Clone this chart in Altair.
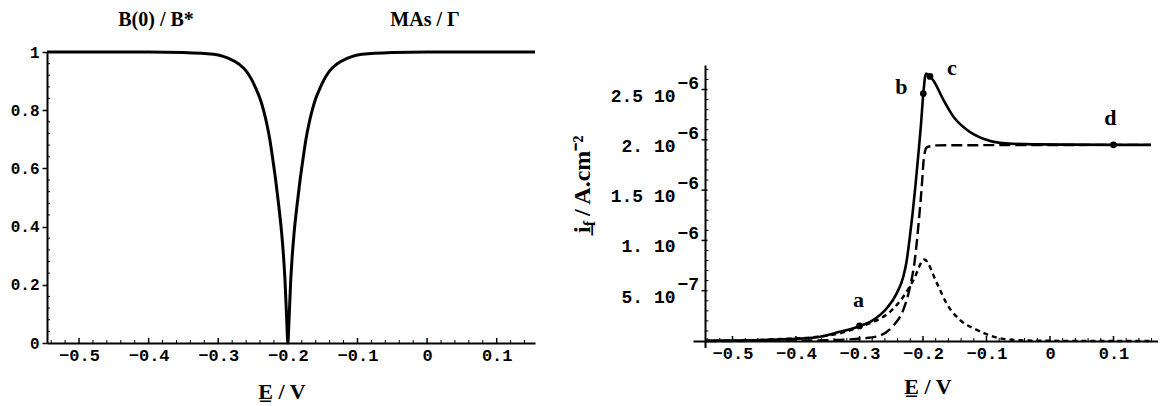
import altair as alt
import pandas as pd

MONO = "Liberation Mono"
SERIF = "Liberation Serif"

# ---------------- left panel data: B(0)/B* versus E ----------------
E_B = [-0.546, -0.400, -0.350, -0.320, -0.300, -0.285, -0.270, -0.260, -0.252, -0.246,
       -0.240, -0.235, -0.230, -0.226, -0.221, -0.217, -0.213, -0.209, -0.206, -0.204,
       -0.2015, -0.200,
       -0.1985, -0.196, -0.194, -0.191, -0.187, -0.183, -0.179, -0.174, -0.170, -0.165,
       -0.160, -0.154, -0.148, -0.140, -0.130, -0.115, -0.100, -0.080, -0.050, 0.000, 0.155]
B_ratio = [1.0, 1.0, 0.998, 0.995, 0.99, 0.978, 0.958, 0.935, 0.905, 0.875,
           0.84, 0.80, 0.75, 0.70, 0.62, 0.55, 0.47, 0.38, 0.29, 0.21,
           0.07, 0.0,
           0.07, 0.21, 0.29, 0.38, 0.47, 0.55, 0.62, 0.70, 0.75, 0.80,
           0.84, 0.875, 0.905, 0.935, 0.958, 0.978, 0.99, 0.995, 0.998, 1.0, 1.0]

left_titles = ["B(0) / B*", "MAs / \u0393"]
x_title = "E\u0332 / V"
y_title_parts = ["i\u0332", "f", "/ A.cm\u207b\u00b2"]

# ---------------- right panel data: i_f (in 1e-6 A.cm-2) versus E ----------------
E_tot = [-0.5425, -0.50, -0.45, -0.40, -0.362, -0.331, -0.302, -0.278, -0.257, -0.2414,
         -0.231, -0.226, -0.2213, -0.2165, -0.2118, -0.2071, -0.2031, -0.1995, -0.1953, -0.189,
         -0.1837, -0.168, -0.152, -0.131, -0.105, -0.079, -0.027, 0.102, 0.159]
i_tot = [0.003, 0.005, 0.010, 0.022, 0.043, 0.092, 0.142, 0.21, 0.325, 0.474,
         0.639, 0.785, 1.004, 1.262, 1.55, 1.87, 2.157, 2.46, 2.66, 2.63,
         2.59, 2.40, 2.23, 2.10, 2.01, 1.97, 1.955, 1.95, 1.95]

E_long = [-0.5425, -0.40, -0.35, -0.32, -0.294, -0.273, -0.247, -0.231, -0.220, -0.213,
          -0.2074, -0.202, -0.1984, -0.194, -0.185, -0.178, 0.159]
i_long = [0.0, 0.003, 0.008, 0.015, 0.027, 0.045, 0.15, 0.31, 0.55, 0.80,
          1.136, 1.53, 1.83, 1.925, 1.94, 1.945, 1.95]

E_short = [-0.5425, -0.48, -0.425, -0.373, -0.331, -0.299, -0.278, -0.252, -0.231, -0.215,
           -0.198, -0.178, -0.163, -0.142, -0.115, -0.079, -0.050, 0.0, 0.159]
i_short = [0.0, 0.005, 0.020, 0.037, 0.076, 0.142, 0.19, 0.29, 0.44, 0.606,
           0.81, 0.573, 0.375, 0.21, 0.11, 0.027, 0.008, 0.002, 0.0]

pt_label = ["a", "b", "c", "d"]
pt_E = [-0.300, -0.1995, -0.189, 0.100]
pt_i = [0.15, 2.46, 2.63, 1.95]

# tick values / labels
x_major = [-0.5, -0.4, -0.3, -0.2, -0.1, 0.0, 0.1]
yl_major = [0.0, 0.2, 0.4, 0.6, 0.8, 1.0]
yr_major = [0.5, 1.0, 1.5, 2.0, 2.5]
yr_mant = ["5. 10", "1. 10", "1.5 10", "2. 10", "2.5 10"]
yr_exp = ["\u22127", "\u22126", "\u22126", "\u22126", "\u22126"]


def minor(start, stop, step, major_step):
    out = []
    k = 0
    while True:
        v = round(start + k * step, 4)
        if v > stop + 1e-9:
            break
        r = v / major_step
        if abs(r - round(r)) > 1e-6:
            out.append(v)
        k += 1
    return out


x_minor_l = minor(-0.54, 0.14, 0.02, 0.1)
yl_minor = minor(0.04, 0.96, 0.04, 0.2)
x_minor_r = minor(-0.54, 0.16, 0.02, 0.1)
yr_minor = minor(0.1, 2.7, 0.1, 0.5)

# ---------------- geometry (styles) ----------------
W1, H1 = 488, 291
W2, H2 = 465, 296
xs1 = alt.Scale(domain=[-0.546, 0.155], nice=False, zero=False)
ys1 = alt.Scale(domain=[0, 1], nice=False, zero=False)
xs2 = alt.Scale(domain=[-0.5622, 0.1701], nice=False, zero=False)
ys2 = alt.Scale(domain=[-0.0696, 2.873], nice=False, zero=False)
Y_AXIS_E = -0.5425
Y_AXIS_TOP = 2.74
ZERO_PX = 7  # pixel height of y=0 above the right panel's bottom edge

label_off = {"a": (-1, -26), "b": (-22, -7), "c": (22, -8), "d": (-3, -27)}

X_LABELS = "datum.value == 0 ? '0' : format(datum.value, '.1f')"
AX_COMMON = dict(title=None, grid=False, labelFont=MONO, labelColor="black",
                 labelFontWeight="bold",
                 domainColor="black", domainWidth=2, tickColor="black")
ax_x1 = alt.Axis(values=x_major, ticks=False, tickSize=0, labelPadding=4,
                 labelExpr=X_LABELS, labelFontSize=17, **AX_COMMON)
ax_y1 = alt.Axis(values=yl_major, tickSize=5, tickWidth=1.5, labelPadding=3,
                 labelExpr="datum.value == 0 ? '0' : (datum.value == 1 ? '1' : format(datum.value, '.1f'))",
                 labelFontSize=16, **AX_COMMON)
ax_x2 = alt.Axis(values=x_major, ticks=False, tickSize=0, labelPadding=4,
                 offset=-ZERO_PX, labelExpr=X_LABELS, labelFontSize=17, **AX_COMMON)


def txt(s, x, y, size=20, angle=0, weight="bold", align="center", baseline="middle"):
    return alt.Chart(pd.DataFrame({"t": [s]})).mark_text(
        font=SERIF, fontSize=size, fontWeight=weight, align=align,
        baseline=baseline, angle=angle, color="black"
    ).encode(text="t:N", x=alt.value(x), y=alt.value(y))


# ---------------- left panel ----------------
X1 = lambda: alt.X("E:Q", scale=xs1, axis=ax_x1)
Y1 = lambda: alt.Y("v:Q", scale=ys1, axis=ax_y1)

df_b = pd.DataFrame({"E": E_B, "v": B_ratio})
left_line = alt.Chart(df_b).mark_line(
    color="black", strokeWidth=3, interpolate="monotone"
).encode(x=X1(), y=Y1())
l_xmaj = alt.Chart(pd.DataFrame({"E": x_major})).mark_rule(color="black", strokeWidth=1.5).encode(
    x=X1(), y=alt.value(H1), y2=alt.value(H1 - 5))
l_xmin = alt.Chart(pd.DataFrame({"E": x_minor_l})).mark_rule(color="black", strokeWidth=1).encode(
    x=X1(), y=alt.value(H1), y2=alt.value(H1 - 3))
l_ymin = alt.Chart(pd.DataFrame({"v": yl_minor})).mark_rule(color="black", strokeWidth=1).encode(
    y=Y1(), x=alt.value(0), x2=alt.value(3))

left = alt.layer(
    left_line, l_xmaj, l_xmin, l_ymin,
    txt(left_titles[0], 109, -32), txt(left_titles[1], 378, -32),
    txt(x_title, 235, 340, size=22),
).properties(width=W1, height=H1)

# ---------------- right panel ----------------
X2 = lambda: alt.X("E:Q", scale=xs2, axis=ax_x2)
Y2 = lambda f="v:Q": alt.Y(f, scale=ys2, axis=None)

df_tot = pd.DataFrame({"E": E_tot, "v": i_tot})
df_long = pd.DataFrame({"E": E_long, "v": i_long})
df_short = pd.DataFrame({"E": E_short, "v": i_short})
df_pts = pd.DataFrame({"E": pt_E, "v": pt_i, "lab": pt_label})

r_tot = alt.Chart(df_tot).mark_line(color="black", strokeWidth=2.6, interpolate="monotone").encode(
    x=X2(), y=Y2())
r_long = alt.Chart(df_long).mark_line(
    color="black", strokeWidth=2.4, strokeDash=[11, 5], interpolate="monotone").encode(x=X2(), y=Y2())
r_short = alt.Chart(df_short).mark_line(
    color="black", strokeWidth=2.4, strokeDash=[5, 4], interpolate="monotone").encode(x=X2(), y=Y2())
r_pts = alt.Chart(df_pts).mark_circle(color="black", size=45, opacity=1).encode(x=X2(), y=Y2())

r_labels = []
for lab in pt_label:
    dx, dy = label_off[lab]
    r_labels.append(
        alt.Chart(df_pts).transform_filter(alt.datum.lab == lab).mark_text(
            font=SERIF, fontSize=22, fontWeight="bold", dx=dx, dy=dy, color="black"
        ).encode(x=X2(), y=Y2(), text="lab:N"))

r_yaxis = alt.Chart(pd.DataFrame({"E": [Y_AXIS_E], "lo": [ys2.domain[0]], "hi": [Y_AXIS_TOP]})).mark_rule(
    color="black", strokeWidth=2).encode(x=X2(), y=Y2("lo:Q"), y2="hi:Q")

AX_PX = (Y_AXIS_E - xs2.domain[0]) / (xs2.domain[1] - xs2.domain[0]) * W2
df_yt = pd.DataFrame({"v": yr_major, "m": yr_mant, "e": yr_exp})
r_ymaj = alt.Chart(df_yt).mark_rule(color="black", strokeWidth=1.5).encode(
    y=Y2(), x=alt.value(AX_PX - 4), x2=alt.value(AX_PX + 2))
r_ymin = alt.Chart(pd.DataFrame({"v": yr_minor})).mark_rule(color="black", strokeWidth=1).encode(
    y=Y2(), x=alt.value(AX_PX), x2=alt.value(AX_PX + 3))
r_xmaj = alt.Chart(pd.DataFrame({"E": x_major})).mark_rule(color="black", strokeWidth=1.5).encode(
    x=X2(), y=alt.value(H2 - ZERO_PX), y2=alt.value(H2 - ZERO_PX - 5))
r_xmin = alt.Chart(pd.DataFrame({"E": x_minor_r})).mark_rule(color="black", strokeWidth=1).encode(
    x=X2(), y=alt.value(H2 - ZERO_PX), y2=alt.value(H2 - ZERO_PX - 3))
r_ymant = alt.Chart(df_yt).mark_text(
    font=MONO, fontSize=18, fontWeight="bold", align="right", baseline="middle", dy=7,
    color="black").encode(y=Y2(), x=alt.value(AX_PX - 30), text="m:N")
r_yexp = alt.Chart(df_yt).mark_text(
    font=MONO, fontSize=18, fontWeight="bold", align="left", baseline="middle", dy=-6,
    color="black").encode(y=Y2(), x=alt.value(AX_PX - 28), text="e:N")

# rotated y title: i (underlined) with subscript f, then the unit
TX, TY = -103, 181
ytitle = [
    txt(y_title_parts[0], TX, TY, size=24, angle=270, align="left", baseline="alphabetic"),
    txt(y_title_parts[1], TX + 5, TY - 6.7, size=16, angle=270, align="left", baseline="alphabetic"),
    txt(y_title_parts[2], TX, TY - 17, size=24, angle=270, align="left", baseline="alphabetic"),
]

right = alt.layer(
    r_tot, r_long, r_short, r_pts, *r_labels, r_yaxis, r_ymaj, r_ymin, r_xmaj, r_xmin,
    r_ymant, r_yexp, *ytitle,
    txt(x_title, 235, 335, size=22),
).properties(width=W2, height=H2)

chart = alt.hconcat(left, right, spacing=158, bounds="flush").properties(
    padding={"left": 10, "top": 10, "right": 0, "bottom": 0},
    background="white",
).configure_view(stroke=None).configure_axis(grid=False)

chart.save("out.html", embed_options={"renderer": "svg", "actions": False})
